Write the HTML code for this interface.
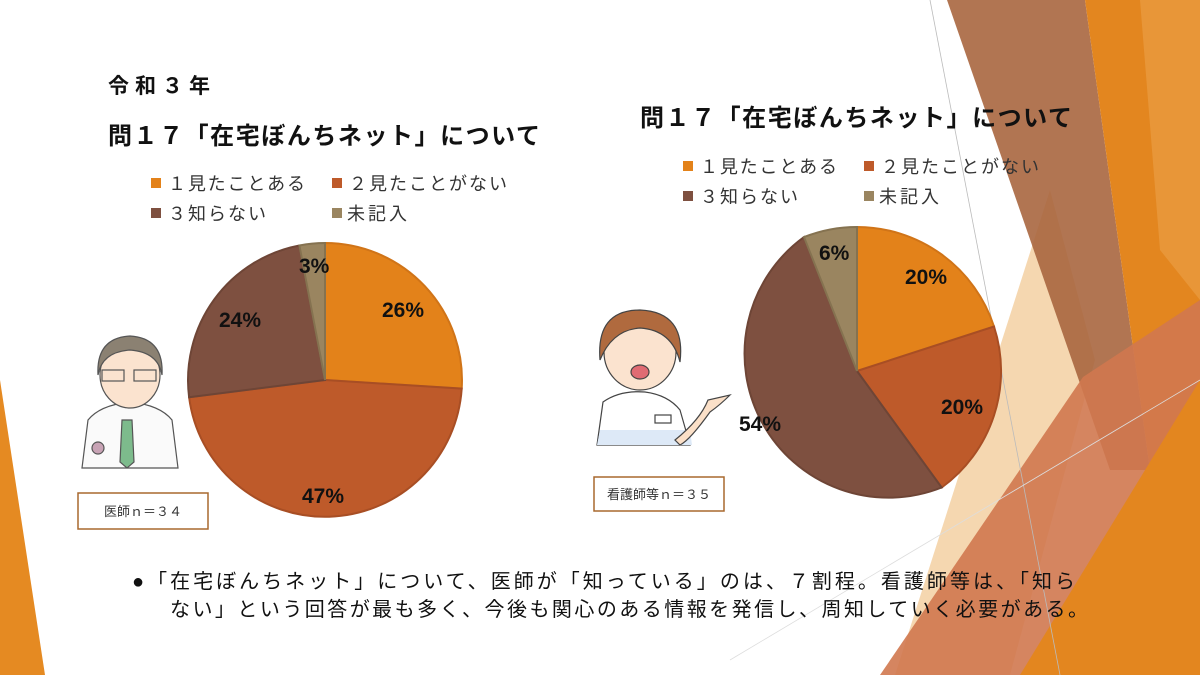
<!DOCTYPE html>
<html><head><meta charset="utf-8"><style>
body{margin:0;width:1200px;height:675px;overflow:hidden;background:#fff;font-family:"Liberation Sans","Noto Sans CJK JP",sans-serif;}
svg{position:absolute;left:0;top:0}
text{font-family:"Liberation Sans","Noto Sans CJK JP",sans-serif}
</style></head><body>
<svg width="1200" height="675" viewBox="0 0 1200 675">
<polygon points="0,380 45,675 0,675" fill="#E58A22"/>
<polygon points="1050,190 1095,360 1010,675 895,675" fill="#F2C996" opacity="0.75"/>
<polygon points="947,0 1085,0 1150,470 1110,470" fill="#A9663F" opacity="0.9"/>
<polygon points="1085,0 1200,0 1200,675 1150,675 1150,470" fill="#E3861F"/>
<polygon points="1140,0 1200,0 1200,300 1160,250" fill="#E99A3E" opacity="0.8"/>
<polygon points="880,675 1083,377 1200,300 1200,675" fill="#D0784F" opacity="0.9"/>
<polygon points="1020,675 1200,380 1200,675" fill="#E3861F"/>
<line x1="930" y1="0" x2="1060" y2="675" stroke="#bbb" stroke-width="0.8"/>
<line x1="730" y1="660" x2="1200" y2="380" stroke="#ddd" stroke-width="0.8"/>

<text x="108" y="93" font-size="21" font-weight="bold" fill="#111" textLength="102">令和３年</text>
<text x="108" y="144" font-size="24" font-weight="bold" fill="#111" textLength="432">問１７「在宅ぼんちネット」について</text>
<text x="640" y="126" font-size="24" font-weight="bold" fill="#111" textLength="432">問１７「在宅ぼんちネット」について</text>

<g font-size="18" fill="#333">
<rect x="151" y="178" width="10" height="10" fill="#E3821A"/><text x="168" y="190" textLength="137">１見たことある</text>
<rect x="332" y="178" width="10" height="10" fill="#BE5A2A"/><text x="349" y="190" textLength="158">２見たことがない</text>
<rect x="151" y="208" width="10" height="10" fill="#7E5040"/><text x="168" y="220" textLength="98">３知らない</text>
<rect x="332" y="208" width="10" height="10" fill="#9A8560"/><text x="347" y="220" textLength="60">未記入</text>
<rect x="683" y="161" width="10" height="10" fill="#E3821A"/><text x="700" y="173" textLength="137">１見たことある</text>
<rect x="864" y="161" width="10" height="10" fill="#BE5A2A"/><text x="881" y="173" textLength="158">２見たことがない</text>
<rect x="683" y="191" width="10" height="10" fill="#7E5040"/><text x="700" y="203" textLength="98">３知らない</text>
<rect x="864" y="191" width="10" height="10" fill="#9A8560"/><text x="879" y="203" textLength="60">未記入</text>
</g>

<g stroke-width="2">
<path d="M325,380 L325,243 A137,137 0 0 1 461.7,388.6 Z" fill="#E3821A" stroke="#D07418"/>
<path d="M325,380 L461.7,388.6 A137,137 0 0 1 189.1,397.2 Z" fill="#BE5A2A" stroke="#A84E24"/>
<path d="M325,380 L189.1,397.2 A137,137 0 0 1 299.4,245.5 Z" fill="#7E5040" stroke="#6E4536"/>
<path d="M325,380 L299.4,245.5 A137,137 0 0 1 325,243 Z" fill="#9A8560" stroke="#857250"/>
</g>
<g font-size="21" font-weight="bold" fill="#111">
<text x="382" y="317">26%</text><text x="302" y="503">47%</text><text x="219" y="327">24%</text><text x="299" y="273">3%</text>
</g>

<g stroke-width="2">
<path d="M857,371 L857,227 A144,144 0 0 1 994,326.5 Z" fill="#E3821A" stroke="#D07418"/>
<path d="M857,371 L994,326.5 A144,144 0 0 1 941.7,487.5 Z" fill="#BE5A2A" stroke="#A84E24"/>
<path d="M857,371 L941.7,487.5 A144,144 0 0 1 804,237.1 Z" fill="#7E5040" stroke="#6E4536"/>
<path d="M857,371 L804,237.1 A144,144 0 0 1 857,227 Z" fill="#9A8560" stroke="#857250"/>
</g>
<g font-size="21" font-weight="bold" fill="#111">
<text x="905" y="284">20%</text><text x="941" y="414">20%</text><text x="739" y="431">54%</text><text x="819" y="260">6%</text>
</g>

<g stroke="#555" stroke-width="1.2">
<path d="M82,468 L88,420 Q100,405 130,402 Q160,405 172,420 L178,468 Z" fill="#fafafa"/>
<path d="M122,420 L132,420 L134,462 L127,468 L120,462 Z" fill="#7dbb8c"/>
<circle cx="98" cy="448" r="6" fill="#c8a3b5"/>
<ellipse cx="130" cy="375" rx="30" ry="33" fill="#fbe3cf"/>
<path d="M98,375 Q96,338 130,336 Q164,338 162,375 Q158,352 130,350 Q102,352 98,375Z" fill="#8b8172"/>
<rect x="102" y="370" width="22" height="11" fill="none"/><rect x="134" y="370" width="22" height="11" fill="none"/>
</g>
<rect x="78" y="493" width="130" height="36" fill="#fff" stroke="#A8682E" stroke-width="1.5"/>
<text x="143" y="516" font-size="13" text-anchor="middle" fill="#333">医師ｎ＝３４</text>

<g stroke="#444" stroke-width="1.2">
<path d="M597,445 L603,402 Q620,390 645,392 Q668,395 680,410 L690,445 Z" fill="#fff"/>
<path d="M600,430 L690,430 L692,445 L597,445Z" fill="#dde9f7" stroke="none"/>
<path d="M675,440 Q700,420 708,400 L730,395 Q720,405 710,412 Q690,440 680,445Z" fill="#fbe0c8"/>
<ellipse cx="640" cy="352" rx="36" ry="38" fill="#fbe3cf"/>
<path d="M600,360 Q596,310 640,310 Q686,312 680,362 Q672,330 640,328 Q612,330 600,360Z" fill="#b06a3e"/>
<ellipse cx="640" cy="372" rx="9" ry="7" fill="#e06b73"/>
<rect x="655" y="415" width="16" height="8" fill="#fff"/>
</g>
<rect x="594" y="477" width="130" height="34" fill="#fff" stroke="#A8682E" stroke-width="1.5"/>
<text x="659" y="499" font-size="13" text-anchor="middle" fill="#333">看護師等ｎ＝３５</text>

<g font-size="20" fill="#111">
<text x="132" y="588" textLength="943">●「在宅ぼんちネット」について、医師が「知っている」のは、７割程。看護師等は、「知ら</text>
<text x="170" y="616" textLength="918">ない」という回答が最も多く、今後も関心のある情報を発信し、周知していく必要がある。</text>
</g>
</svg>
</body></html>
